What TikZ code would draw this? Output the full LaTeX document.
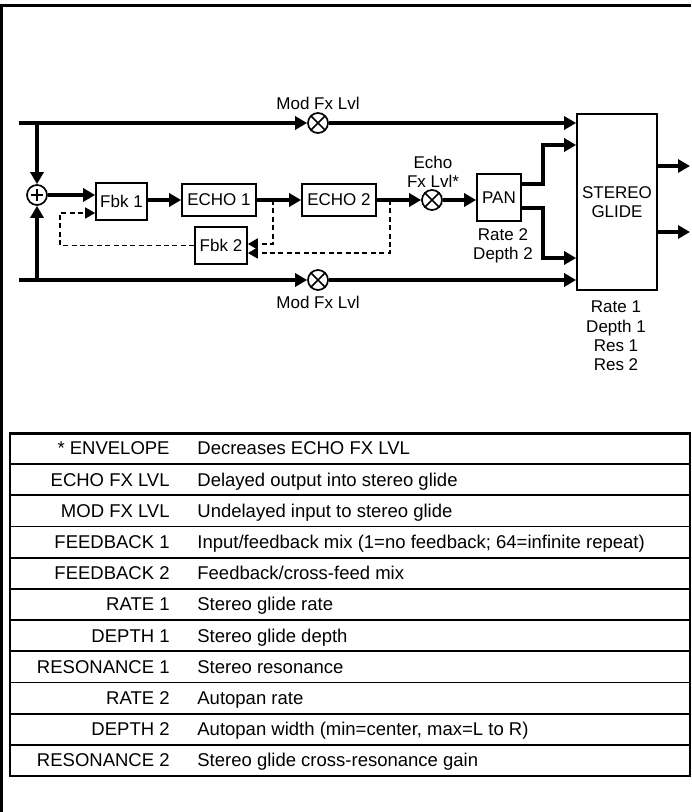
\documentclass[tikz,border=0pt]{standalone}
\usepackage{fontspec}
\setmainfont{Liberation Sans}
\usetikzlibrary{arrows.meta,positioning,calc}

\begin{document}
\begin{tikzpicture}[
  x=0.5pt, y=-0.5pt,
  font=\fontsize{8.5}{9.6}\selectfont,
  blk/.style={draw,line width=0.85pt,inner sep=0pt,align=center},
  mulc/.style={draw,circle,line width=0.85pt,minimum size=10pt,inner sep=0pt,
               path picture={\draw[line width=0.85pt]
                 (path picture bounding box.north west) -- (path picture bounding box.south east)
                 (path picture bounding box.south west) -- (path picture bounding box.north east);}},
  sumc/.style={draw,circle,line width=0.85pt,minimum size=10pt,inner sep=0pt,
               path picture={\draw[line width=0.85pt]
                 ([xshift=-3pt]path picture bounding box.center) -- ([xshift=3pt]path picture bounding box.center)
                 ([yshift=-3pt]path picture bounding box.center) -- ([yshift=3pt]path picture bounding box.center);}},
  lbl/.style={align=center,inner sep=0pt},
  sig/.style={line width=1.65pt,-{Triangle[length=6pt,width=6.5pt]}},
  fb/.style={line width=0.8pt,dash pattern=on 2.5pt off 1.7pt,-{Triangle[length=5pt,width=5.5pt]}},
  key/.style={anchor=east,inner sep=0pt,text height=1.5ex,text depth=0.3ex,font=\fontsize{9.25}{11}\selectfont},
  desc/.style={anchor=west,inner sep=0pt,text height=1.5ex,text depth=0.3ex,font=\fontsize{9.25}{11}\selectfont},
]
\useasboundingbox (0,0) rectangle (691,812);
% frame
\draw[line width=1.5pt] (1.5,812) -- (1.5,6) -- (691,6);

% blocks
\node[sumc] (sum) at (37,195) {};
\node[mulc] (mtop) at (318,123) {};
\node[mulc] (mbot) at (318,280) {};
\node[mulc] (mecho) at (432,200) {};
\node[blk,minimum width=25.5pt,minimum height=18.5pt] (fbk1) at (121.5,201.5) {Fbk 1};
\node[blk,minimum width=37pt,minimum height=16pt] (echo1) at (219,200) {ECHO 1};
\node[blk,minimum width=37pt,minimum height=16pt] (echo2) at (339,200) {ECHO 2};
\node[blk,minimum width=26pt,minimum height=18.5pt] (fbk2) at (221,245.5) {Fbk 2};
\node[blk,minimum width=22pt,minimum height=23.5pt] (pan) at (499,197.5) {PAN};
\node[blk,minimum width=40pt,minimum height=88pt] (glide) at (617,202) {STEREO\\GLIDE};

% labels
\node[lbl] (mtoplbl) at (318,103) {Mod Fx Lvl};
\node[lbl] (mbotlbl) at (318,302) {Mod Fx Lvl};
\node[lbl] (echolbl) at (433,172) {Echo\\Fx Lvl*};
\node[lbl] (panlbl) at (503,245.5) {Rate 2\\Depth 2};
\node[lbl] (glidelbl) at (616,336) {Rate 1\\Depth 1\\Res 1\\Res 2};

% free ends
\coordinate (inT) at (19,123);
\coordinate (inB) at (19,280);
\coordinate (tapT) at (37,123);
\coordinate (tapB) at (37,280);
\coordinate (tap1) at (273,200);
\coordinate (tap2) at (390,200);
\coordinate (fbret) at (60,213);
\coordinate (panup) at (543,145);
\coordinate (pandn) at (543,258);
\coordinate (outL) at (690,166);
\coordinate (outR) at (690,232);

% signal path
\draw[sig] (inT) -- (mtop);
\draw[sig] (mtop) -- (mtop -| glide.west);
\draw[sig] (inB) -- (mbot);
\draw[sig] (mbot) -- (mbot -| glide.west);
\draw[sig] (tapT) -- (sum);
\draw[sig] (tapB) -- (sum);
\draw[sig] (sum) -- (sum -| fbk1.west);
\draw[sig] (fbk1.east |- echo1) -- (echo1);
\draw[sig] (echo1) -- (echo2);
\draw[sig] (echo2) -- (mecho);
\draw[sig] (mecho) -- (mecho -| pan.west);
\draw[sig] ([yshift=6.75pt]pan.east) -| (panup) -- (panup -| glide.west);
\draw[sig] ([yshift=-5.25pt]pan.east) -| (pandn) -- (pandn -| glide.west);
\draw[sig] ([yshift=18pt]glide.east) -- (outL);
\draw[sig] ([yshift=-15pt]glide.east) -- (outR);

% feedback
\draw[fb] (tap1) |- ([yshift=0.75pt]fbk2.east);
\draw[fb] (tap2) |- ([yshift=-3.75pt]fbk2.east);
\draw[fb] (fbk2.west) -| (fbret) -- ([yshift=-5.75pt]fbk1.west);

% parameter table
\draw[line width=1pt] (10,433) rectangle (690,776);
\draw[line width=1.5pt] (10,433) -- (690,433);
\foreach \r in {1,...,10}
  \draw[line width=0.9pt] (10,{433+\r*31.18}) -- (690,{433+\r*31.18});
\node[key] (k1) at (170,448.6) {* ENVELOPE};
\node[desc] (d1) at (197,448.6) {Decreases ECHO FX LVL};
\node[key] (k2) at (170,479.8) {ECHO FX LVL};
\node[desc] (d2) at (197,479.8) {Delayed output into stereo glide};
\node[key] (k3) at (170,511.0) {MOD FX LVL};
\node[desc] (d3) at (197,511.0) {Undelayed input to stereo glide};
\node[key] (k4) at (170,542.1) {FEEDBACK 1};
\node[desc] (d4) at (197,542.1) {Input/feedback mix (1=no feedback; 64=infinite repeat)};
\node[key] (k5) at (170,573.3) {FEEDBACK 2};
\node[desc] (d5) at (197,573.3) {Feedback/cross-feed mix};
\node[key] (k6) at (170,604.5) {RATE 1};
\node[desc] (d6) at (197,604.5) {Stereo glide rate};
\node[key] (k7) at (170,635.7) {DEPTH 1};
\node[desc] (d7) at (197,635.7) {Stereo glide depth};
\node[key] (k8) at (170,666.8) {RESONANCE 1};
\node[desc] (d8) at (197,666.8) {Stereo resonance};
\node[key] (k9) at (170,698.0) {RATE 2};
\node[desc] (d9) at (197,698.0) {Autopan rate};
\node[key] (k10) at (170,729.2) {DEPTH 2};
\node[desc] (d10) at (197,729.2) {Autopan width (min=center, max=L to R)};
\node[key] (k11) at (170,760.4) {RESONANCE 2};
\node[desc] (d11) at (197,760.4) {Stereo glide cross-resonance gain};
\end{tikzpicture}
\end{document}
